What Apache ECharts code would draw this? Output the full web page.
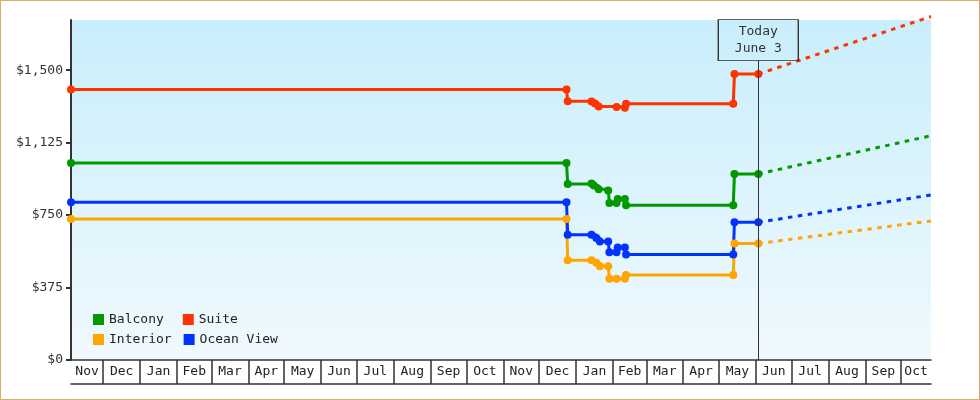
<!DOCTYPE html>
<html>
<head>
<meta charset="utf-8">
<title>Cabin prices</title>
<script src="https://cdn.jsdelivr.net/npm/echarts@6/dist/echarts.min.js"></script>
<style>
    html, body { margin: 0; padding: 0; background: #fff; }
    #wrap { position: relative; width: 980px; height: 400px; }
    #chart { width: 980px; height: 400px; }
    #frame {
        position: absolute; left: 0; top: 0; width: 980px; height: 400px;
        box-sizing: border-box; border: 1px solid #e6a867; pointer-events: none;
    }
</style>
</head>
<body>
<div id="wrap">
    <div id="chart"></div>
    <div id="frame"></div>
</div>
<script>
// axis range + labels
const axisStart = '2023-11-04';
const axisEnd = '2025-10-26';
const today = '2025-06-03';
const monthLabels = ['Nov', 'Dec', 'Jan', 'Feb', 'Mar', 'Apr', 'May', 'Jun', 'Jul', 'Aug', 'Sep', 'Oct',
                     'Nov', 'Dec', 'Jan', 'Feb', 'Mar', 'Apr', 'May', 'Jun', 'Jul', 'Aug', 'Sep', 'Oct'];
const priceTicks = [0, 375, 750, 1125, 1500];

// price history per cabin type
const balconyDates = ['2023-11-04', '2024-12-24', '2024-12-25', '2025-01-14', '2025-01-16', '2025-01-20', '2025-01-28',
                      '2025-01-29', '2025-02-04', '2025-02-05', '2025-02-11', '2025-02-12', '2025-05-13', '2025-05-14', '2025-06-03'];
const balconyPrices = [1020, 1020, 911, 914, 903, 884, 877, 813, 813, 834, 834, 801, 801, 963, 963];

const suiteDates = ['2023-11-04', '2024-12-24', '2024-12-25', '2025-01-14', '2025-01-17', '2025-01-20',
                    '2025-02-04', '2025-02-11', '2025-02-12', '2025-05-13', '2025-05-14', '2025-06-03'];
const suitePrices = [1400, 1400, 1340, 1338, 1328, 1312, 1310, 1306, 1327, 1327, 1480, 1480];

const interiorDates = ['2023-11-04', '2024-12-24', '2024-12-25', '2025-01-14', '2025-01-18', '2025-01-21', '2025-01-28',
                       '2025-01-29', '2025-02-04', '2025-02-11', '2025-02-12', '2025-05-13', '2025-05-14', '2025-06-03'];
const interiorPrices = [730, 730, 516, 516, 503, 485, 485, 420, 420, 420, 440, 440, 603, 603];

const oceanDates = ['2023-11-04', '2024-12-24', '2024-12-25', '2025-01-14', '2025-01-18', '2025-01-21', '2025-01-28',
                    '2025-01-29', '2025-02-04', '2025-02-05', '2025-02-11', '2025-02-12', '2025-05-13', '2025-05-14', '2025-06-03'];
const oceanPrices = [816, 816, 649, 649, 632, 614, 614, 558, 558, 583, 583, 546, 546, 713, 713];

// projected price at the end of the axis
const projectedEnd = '2025-10-26';
const balconyProjected = 1161;
const suiteProjected = 1778;
const interiorProjected = 720;
const oceanProjected = 854;

const FONT = '"DejaVu Sans Mono", monospace';
const ts = s => Date.parse(s);
const xMin = ts(axisStart);
const xMax = ts(axisEnd);

// month boundaries for the boxed labels
const monthStarts = [];
const monthMids = [];
const labelAt = {};
monthLabels.forEach((label, i) => {
    const start = Date.UTC(2023, 10 + i, 1);
    const end = Date.UTC(2023, 11 + i, 1);
    if (i > 0) monthStarts.push(start);
    const mid = (Math.max(start, xMin) + Math.min(end, xMax)) / 2;
    monthMids.push(mid);
    labelAt[mid] = label;
});

function history(name, color, dates, prices) {
    return {
        name: name,
        type: 'line',
        step: 'end',
        data: dates.map((d, i) => [ts(d), prices[i]]),
        symbol: 'circle',
        symbolSize: 8,
        itemStyle: { color: color },
        lineStyle: { color: color, width: 3 },
        z: 3
    };
}

function projection(name, color, prices, endPrice) {
    return {
        name: name,
        type: 'line',
        data: [[ts(today), prices[prices.length - 1]], [ts(projectedEnd), endPrice]],
        showSymbol: false,
        clip: false,
        itemStyle: { color: color },
        lineStyle: { color: color, width: 3, type: [4.5, 5.5] },
        z: 2
    };
}

const chart = echarts.init(document.getElementById('chart'));
const legendText = { fontFamily: FONT, fontSize: 13, color: '#222' };

chart.setOption({
    animation: false,
    grid: {
        left: 71, right: 49, top: 20, bottom: 40,
        show: true,
        borderWidth: 0,
        backgroundColor: new echarts.graphic.LinearGradient(0, 0, 0, 1, [
            { offset: 0, color: '#c9eefb' },
            { offset: 1, color: '#f0f9fe' }
        ])
    },
    legend: [
        {
            data: ['Balcony', 'Suite'], left: 93, top: 313, padding: 0,
            itemWidth: 11, itemHeight: 11, itemGap: 19, icon: 'rect',
            itemStyle: { borderWidth: 0 }, textStyle: legendText
        },
        {
            data: ['Interior', 'Ocean View'], left: 93, top: 333, padding: 0,
            itemWidth: 11, itemHeight: 11, itemGap: 12, icon: 'rect',
            itemStyle: { borderWidth: 0 }, textStyle: legendText
        }
    ],
    xAxis: [
        { type: 'time', min: xMin, max: xMax, show: false },
        {
            type: 'value', min: xMin, max: xMax, position: 'bottom',
            axisLine: { show: true, lineStyle: { color: '#333', width: 1.5 } },
            axisTick: { show: true, customValues: monthStarts, length: 24, lineStyle: { color: '#333', width: 1.5 } },
            axisLabel: {
                customValues: monthMids,
                formatter: v => labelAt[v] || '',
                margin: 12, verticalAlign: 'middle',
                fontFamily: FONT, fontSize: 13, color: '#222'
            },
            splitLine: { show: false }
        },
        {
            type: 'value', min: xMin, max: xMax, position: 'bottom', offset: 24,
            axisLine: { show: true, lineStyle: { color: '#333', width: 1.5 } },
            axisTick: { show: false },
            axisLabel: { show: false },
            splitLine: { show: false }
        }
    ],
    yAxis: {
        type: 'value', min: 0, max: 1760,
        axisLine: { show: true, lineStyle: { color: '#333', width: 2 } },
        axisTick: { show: true, customValues: priceTicks, length: 5, lineStyle: { color: '#333', width: 2 } },
        axisLabel: {
            customValues: priceTicks,
            formatter: v => '$' + v.toLocaleString('en-US'),
            margin: 8, fontFamily: FONT, fontSize: 13, color: '#333'
        },
        splitLine: { show: false }
    },
    series: [
        // today marker
        {
            name: 'today', type: 'line', data: [], silent: true, z: 1,
            markLine: {
                silent: true, symbol: ['none', 'none'], label: { show: false },
                lineStyle: { color: '#333', width: 1, type: 'solid' },
                data: [[{ coord: [ts(today), 1551] }, { coord: [ts(today), 0] }]]
            },
            markPoint: {
                silent: true,
                data: [{
                    coord: [ts(today), 1656],
                    symbol: 'rect', symbolSize: [80, 41],
                    itemStyle: { color: 'rgba(0,0,0,0)', borderColor: '#333', borderWidth: 1 },
                    label: {
                        show: true, position: 'inside', formatter: 'Today\nJune 3',
                        fontFamily: FONT, fontSize: 13, lineHeight: 17, color: '#333'
                    }
                }]
            }
        },
        history('Balcony', '#009900', balconyDates, balconyPrices),
        history('Suite', '#ff3300', suiteDates, suitePrices),
        history('Interior', '#ffa500', interiorDates, interiorPrices),
        history('Ocean View', '#0033ff', oceanDates, oceanPrices),
        projection('Balcony', '#009900', balconyPrices, balconyProjected),
        projection('Suite', '#ff3300', suitePrices, suiteProjected),
        projection('Interior', '#ffa500', interiorPrices, interiorProjected),
        projection('Ocean View', '#0033ff', oceanPrices, oceanProjected)
    ]
});
</script>
</body>
</html>
